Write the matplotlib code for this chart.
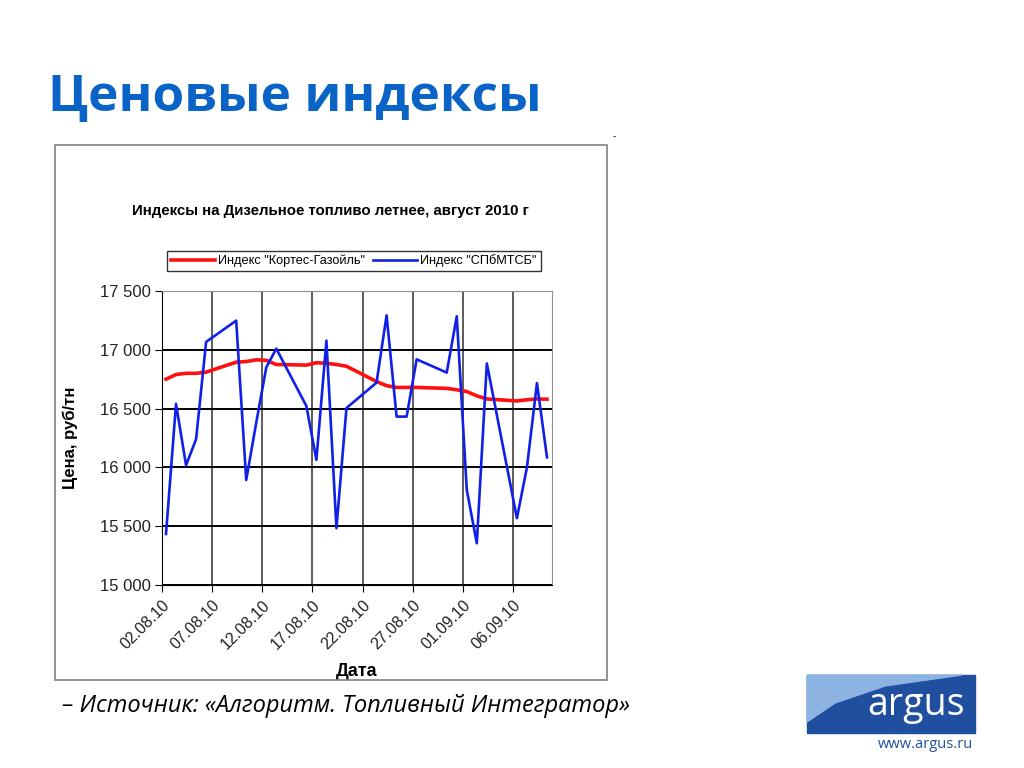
import numpy as np
import pandas as pd
import matplotlib
matplotlib.use("Agg")
import matplotlib.pyplot as plt
import matplotlib.patches as patches
from matplotlib.ticker import FuncFormatter

# Данные
dates = ["02.08.10", "03.08.10", "04.08.10", "05.08.10", "06.08.10",
         "09.08.10", "10.08.10", "11.08.10", "12.08.10", "13.08.10",
         "16.08.10", "17.08.10", "18.08.10", "19.08.10", "20.08.10",
         "23.08.10", "24.08.10", "25.08.10", "26.08.10", "27.08.10",
         "30.08.10", "31.08.10", "01.09.10", "02.09.10", "03.09.10",
         "06.09.10", "07.09.10", "08.09.10", "09.09.10"]

kortes = [16750, 16790, 16800, 16800, 16810,
          16895, 16900, 16915, 16910, 16875,
          16870, 16890, 16885, 16875, 16860,
          16730, 16695, 16680, 16680, 16680,
          16672, 16660, 16645, 16608, 16582,
          16565, 16575, 16582, 16580]

spbmtsb = [15434, 16540, 16018, 16240, 17067,
           17248, 15893, 16380, 16850, 17010,
           16522, 16064, 17078, 15483, 16505,
           16721, 17293, 16432, 16432, 16919,
           16806, 17285, 15808, 15355, 16884,
           15568, 16000, 16717, 16086]

tick_labels = ["02.08.10", "07.08.10", "12.08.10", "17.08.10",
               "22.08.10", "27.08.10", "01.09.10", "06.09.10"]

# Переводим даты в дни от начала оси
start = pd.to_datetime("02.08.10", format="%d.%m.%y")
x = (pd.to_datetime(dates, format="%d.%m.%y") - start).days.values + 0.4
xt = (pd.to_datetime(tick_labels, format="%d.%m.%y") - start).days.values

plt.rcParams['font.family'] = ['Liberation Sans', 'DejaVu Sans']

fig = plt.figure(figsize=(10.24, 7.68), dpi=100)
W, H = 1024, 768

# Заголовок слайда
fig.text(48 / W, 1 - 98 / H, "Ценовые индексы", fontsize=37, fontweight='bold',
         color='#0a64c8', family=['Open Sans', 'DejaVu Sans'], va='center', ha='left')
fig.text(614 / W, 1 - 136 / H, "-", fontsize=7, color='black', ha='center', va='center')

# Рамка диаграммы
fig.patches.append(patches.Rectangle((55 / W, 1 - 680 / H), 552 / W, 535 / H,
                                     transform=fig.transFigure, fill=False,
                                     edgecolor='#808080', linewidth=1.2))

ax = fig.add_axes([162 / W, 1 - 585 / H, 390 / W, 294 / H])
ax.plot(x, kortes, color='#ff1010', linewidth=2.6, label='Индекс "Кортес-Газойль"', zorder=3)
ax.plot(x, spbmtsb, color='#1020e8', linewidth=1.9, label='Индекс "СПбМТСБ"', zorder=4)

ax.set_xlim(0, 38.9)
ax.set_ylim(15000, 17500)
ax.set_yticks(np.arange(15000, 17501, 500))
ax.yaxis.set_major_formatter(FuncFormatter(lambda v, p: f"{int(v):,}".replace(",", " ")))
ax.set_xticks(xt)
ax.set_xticklabels(tick_labels, rotation=45, ha='right', rotation_mode='anchor')
ax.tick_params(axis='both', direction='out', length=5, color='black', labelcolor='#222222')
ax.tick_params(axis='y', labelsize=12, pad=3)
ax.tick_params(axis='x', labelsize=11.5, pad=4)

ax.grid(axis='y', color='black', linewidth=1.4)
ax.grid(axis='x', color='#404040', linewidth=1.2)
ax.set_axisbelow(True)
for s in ['top', 'right']:
    ax.spines[s].set_color('#909090')
for s in ['left', 'bottom']:
    ax.spines[s].set_color('black')

ax.set_ylabel("Цена, руб/тн", fontsize=12, fontweight='bold')
ax.set_xlabel("Дата", fontsize=13, fontweight='bold')
ax.yaxis.set_label_coords(-0.215, 0.5)
ax.xaxis.set_label_coords(0.5, -0.265)

fig.text(330 / W, 1 - 211 / H, "Индексы на Дизельное топливо летнее, август 2010 г",
         fontsize=10.8, fontweight='bold', ha='center', va='center')

leg = fig.legend(loc='center', bbox_to_anchor=(354 / W, 1 - 261 / H), ncol=2,
                 fontsize=9.2, frameon=True, fancybox=False, edgecolor='black',
                 handlelength=3.4, handletextpad=0.3, columnspacing=0.6,
                 borderpad=0.3)
leg.get_frame().set_linewidth(1.0)

# Источник
fig.text(62 / W, 1 - 706 / H, "– Источник: «Алгоритм. Топливный Интегратор»",
         fontsize=17, style='italic', family=['Open Sans', 'DejaVu Sans'],
         ha='left', va='center', color='black')

# Логотип argus
fig.patches.append(patches.Rectangle((807 / W, 1 - 733 / H), 168 / W, 58 / H,
                                     transform=fig.transFigure, color='#1f4f9e'))
fig.patches.append(patches.Polygon([(807 / W, 1 - 675 / H), (962 / W, 1 - 675 / H),
                                    (885 / W, 1 - 686 / H), (835 / W, 1 - 703 / H),
                                    (807 / W, 1 - 722 / H)],
                                   closed=True, transform=fig.transFigure, color='#8db3e2'))
fig.text(916 / W, 1 - 705 / H, "argus", fontsize=27, color='white',
         family=['Open Sans', 'DejaVu Sans'], ha='center', va='center')
fig.text(973 / W, 1 - 744 / H, "www.argus.ru", fontsize=10.5, color='#1f4f9e',
         family=['Open Sans', 'DejaVu Sans'], ha='right', va='center')

fig.savefig("out.png", dpi=100)
